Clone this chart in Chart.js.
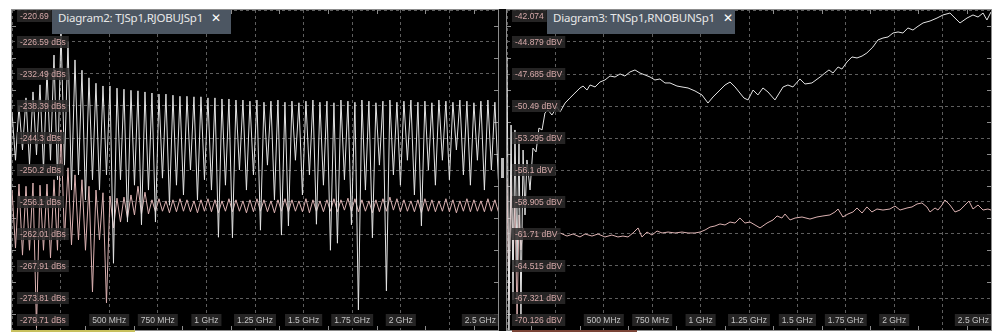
<!DOCTYPE html>
<html>
<head>
<meta charset="utf-8">
<script src="https://cdn.jsdelivr.net/npm/chart.js@4.4.1/dist/chart.umd.min.js"></script>
<style>
  html, body { margin: 0; padding: 0; background: #fff; }
  body { width: 994px; height: 333px; position: relative; overflow: hidden; }
  #frame { position: absolute; left: 11px; top: 9px; width: 981px; height: 322px; background: #050505; }
  .panel { position: absolute; top: 9px; height: 320px; border: 1px solid #8c8c8c; background: #000; }
  #panel2 { left: 11px; width: 486px; }
  #panel3 { left: 506px; width: 484px; }
  .panel canvas { display: block; }
  .tab { position: absolute; top: 10px; height: 24px; line-height: 24px; background: #4c5662; color: #e8e8e8;
         font: 11.5px "Noto Sans", sans-serif; letter-spacing: -0.2px; padding-left: 6px; box-sizing: border-box; white-space: nowrap; }
  .tab b { font-family: "DejaVu Sans", sans-serif; font-size: 12px; font-weight: bold; margin-left: 8px; color: #fff; }
  #tab2 { left: 52px; width: 179px; }
  #tab3 { left: 547px; width: 188px; }
  #handle { position: absolute; left: 501px; top: 158px; width: 3px; height: 20px; background: #bdbdbd; }
  .scroll { position: absolute; top: 330px; height: 2px; }
</style>
</head>
<body>
<div id="frame"></div>
<div class="panel" id="panel2"><canvas id="chart2" width="486" height="320"></canvas></div>
<div class="panel" id="panel3"><canvas id="chart3" width="484" height="320"></canvas></div>
<div class="tab" id="tab2">Diagram2: TJSp1,RJOBUJSp1<b>✕</b></div>
<div class="tab" id="tab3">Diagram3: TNSp1,RNOBUNSp1<b>✕</b></div>
<div id="handle"></div>
<div class="scroll" style="left:11px;width:124px;background:#c8c05c"></div>
<div class="scroll" style="left:512px;width:125px;background:#7a4436"></div>
<script>
// ---------------------------------------------------------
// Frequency axis (shared by both diagrams)
// ---------------------------------------------------------
const freqGridMHz = [0, 250, 500, 750, 1000, 1250, 1500, 1750, 2000, 2250, 2500];
const xLabelMHz = [500, 750, 1000, 1250, 1500, 1750, 2000, 2500];
const xLabelText = ["500 MHz", "750 MHz", "1 GHz", "1.25 GHz", "1.5 GHz", "1.75 GHz", "2 GHz", "2.5 GHz"];

// ---------------------------------------------------------
// Diagram2 (dBs), sampled every 18 MHz
// ---------------------------------------------------------
const diag2StepMHz = 18;
const diag2YTicks = [-220.69, -226.59, -232.49, -238.39, -244.3, -250.2, -256.1, -262.01, -267.91, -273.81, -279.71];
const diag2YLabels = ["-220.69", "-226.59 dBs", "-232.49 dBs", "-238.39 dBs", "-244.3 dBs", "-250.2 dBs",
  "-256.1 dBs", "-262.01 dBs", "-267.91 dBs", "-273.81 dBs", "-279.71 dBs"];

const diag2White = [
  -239.5, -248.4, -238.4, -246.5, -236.9, -249.3, -235.8, -247.4, -234.5, -250.2,
  -231.8, -248.4, -229.0, -252.0, -224.4, -249.3, -226.6, -253.9, -229.9, -251.1,
  -231.8, -255.7, -233.2, -252.0, -234.2, -253.9, -234.7, -251.1, -234.7, -267.4,
  -235.1, -252.0, -235.3, -259.8, -235.5, -253.0, -235.6, -260.3, -235.8, -253.9,
  -236.0, -259.8, -236.2, -251.7, -236.2, -256.7, -236.4, -253.0, -236.6, -254.8,
  -236.6, -250.2, -236.7, -255.7, -236.7, -252.0, -236.9, -253.9, -236.9, -262.6,
  -237.1, -253.0, -237.1, -262.7, -237.3, -250.2, -237.3, -253.9, -237.5, -251.1,
  -237.3, -261.3, -237.7, -249.3, -237.5, -255.7, -237.3, -262.2, -237.7, -260.5,
  -237.5, -248.4, -237.8, -254.8, -237.5, -251.1, -237.3, -260.2, -237.7, -253.0,
  -237.5, -265.0, -237.8, -263.7, -237.3, -252.0, -237.5, -260.3, -237.7, -276.0,
  -237.3, -253.9, -237.5, -262.7, -237.8, -249.3, -237.5, -272.5, -237.3, -251.1,
  -237.7, -253.0, -237.5, -248.4, -237.3, -254.8, -237.7, -260.5, -237.5, -250.2,
  -237.8, -253.0, -237.3, -248.4, -237.5, -252.0, -237.7, -246.5, -237.3, -251.1,
  -237.5, -253.0, -237.8, -248.4, -237.5, -253.9, -237.3, -250.2, -237.7, -252.0
];

const diag2Pink = [
  -253.9, -264.6, -252.8, -265.9, -253.2, -265.0, -252.6, -279.3, -253.0, -265.0,
  -252.8, -266.4, -252.0, -265.0, -242.8, -263.1, -249.8, -264.0, -251.1, -263.1,
  -252.0, -265.0, -253.2, -272.7, -253.9, -263.1, -254.4, -274.7, -255.0, -260.9,
  -255.4, -259.8, -255.2, -259.1, -254.8, -258.5, -253.2, -258.3, -254.3, -258.3,
  -255.7, -257.9, -255.5, -257.8, -255.9, -258.1, -255.7, -257.9, -255.5, -257.8,
  -255.7, -257.9, -255.9, -258.1, -255.7, -257.8, -255.5, -257.9, -255.7, -258.1,
  -255.9, -257.8, -255.5, -257.9, -255.7, -257.8, -255.9, -258.1, -255.7, -257.9,
  -255.5, -257.8, -255.7, -257.9, -255.9, -258.1, -255.7, -257.8, -255.5, -257.9,
  -255.7, -257.8, -255.9, -257.9, -255.5, -258.1, -255.7, -257.8, -255.9, -257.9,
  -255.7, -257.8, -255.5, -257.9, -255.7, -257.6, -255.4, -257.8, -255.5, -257.9,
  -255.7, -257.8, -255.9, -258.1, -255.7, -257.9, -255.5, -257.8, -255.2, -257.6,
  -255.5, -257.9, -255.7, -257.8, -255.9, -257.9, -255.7, -258.1, -255.5, -257.8,
  -255.7, -257.9, -255.9, -257.8, -255.5, -257.9, -255.7, -258.1, -255.9, -257.8,
  -255.5, -257.9, -255.7, -257.8, -255.9, -257.9, -255.5, -257.8, -255.7, -257.9
];

// ---------------------------------------------------------
// Diagram3 (dBV)
// ---------------------------------------------------------
const diag3YTicks = [-42.074, -44.879, -47.685, -50.49, -53.295, -56.1, -58.905, -61.71, -64.515, -67.321, -70.126];
const diag3YLabels = ["-42.074", "-44.879 dBV", "-47.685 dBV", "-50.49 dBV", "-53.295 dBV", "-56.1 dBV",
  "-58.905 dBV", "-61.71 dBV", "-64.515 dBV", "-67.321 dBV", "-70.126 dBV"];

const diag3WhiteMHz = [
  0, 10, 21, 31, 41, 52, 62, 72, 83, 93,
  103, 119, 134, 150, 165, 181, 196, 212, 232, 258,
  274, 300, 325, 351, 377, 393, 413, 429, 455, 480,
  506, 532, 558, 584, 609, 635, 661, 687, 713, 739,
  764, 790, 816, 842, 878, 904, 935, 971, 1007, 1038,
  1064, 1100, 1126, 1152, 1178, 1203, 1224, 1245, 1271, 1296,
  1322, 1348, 1384, 1426, 1451, 1477, 1513, 1539, 1575, 1617,
  1642, 1663, 1684, 1710, 1730, 1756, 1782, 1808, 1834, 1859,
  1890, 1916, 1942, 1968, 1994, 2020, 2045, 2071, 2097, 2118,
  2149, 2185, 2221, 2252, 2288, 2314, 2340, 2376, 2407, 2433,
  2459, 2479, 2500
];
const diag3WhiteDbv = [
  -46.19, -70.13, -52.16, -67.50, -52.59, -64.43, -53.47, -69.07, -54.35, -60.04,
  -55.22, -57.85, -54.17, -54.52, -52.42, -52.59, -51.10, -50.84, -51.28, -50.58,
  -51.02, -50.23, -49.79, -49.35, -48.91, -48.74, -49.09, -48.65, -48.82, -48.39,
  -48.21, -47.86, -47.95, -47.68, -47.86, -47.51, -47.33, -47.60, -47.77, -47.95,
  -48.21, -48.12, -48.47, -48.47, -48.74, -48.82, -48.91, -49.17, -49.52, -50.23,
  -49.70, -49.09, -48.65, -48.39, -48.82, -49.35, -49.79, -49.96, -49.09, -49.52,
  -48.91, -49.26, -49.96, -48.82, -48.65, -48.82, -48.12, -48.56, -48.47, -47.95,
  -47.60, -47.33, -47.60, -47.07, -47.25, -46.63, -46.19, -46.28, -46.11, -45.84,
  -45.32, -44.70, -44.53, -44.44, -44.09, -44.00, -44.09, -43.65, -43.83, -43.56,
  -43.21, -43.04, -42.78, -42.51, -42.34, -42.78, -43.21, -42.78, -42.51, -42.69,
  -42.34, -42.95, -42.25
];

const diag3PinkMHz = [
  0, 10, 21, 31, 41, 52, 62, 72, 83, 98,
  119, 145, 170, 196, 222, 248, 274, 310, 341, 377,
  403, 439, 470, 506, 542, 573, 599, 625, 651, 677,
  697, 723, 749, 775, 801, 832, 868, 904, 935, 971,
  997, 1023, 1049, 1074, 1100, 1126, 1152, 1178, 1203, 1229,
  1255, 1281, 1307, 1343, 1374, 1395, 1420, 1436, 1462, 1488,
  1524, 1565, 1601, 1632, 1668, 1694, 1710, 1735, 1761, 1787,
  1808, 1834, 1859, 1885, 1911, 1942, 1978, 2004, 2030, 2066,
  2092, 2118, 2143, 2169, 2185, 2211, 2226, 2247, 2262, 2288,
  2314, 2340, 2366, 2386, 2407, 2433, 2459, 2484, 2500
];
const diag3PinkDbv = [
  -56.98, -67.50, -56.54, -63.99, -58.73, -69.25, -60.04, -63.11, -61.18, -61.89,
  -61.54, -61.71, -61.54, -61.80, -61.62, -61.80, -61.62, -61.89, -61.71, -61.97,
  -61.71, -61.89, -61.71, -61.97, -61.80, -61.97, -61.89, -61.97, -61.62, -61.18,
  -61.97, -61.54, -61.80, -61.45, -61.62, -61.54, -61.62, -61.54, -61.62, -61.62,
  -61.54, -61.36, -61.10, -61.01, -60.83, -60.92, -60.66, -60.75, -60.31, -60.75,
  -60.66, -60.92, -61.18, -60.75, -60.48, -60.13, -60.31, -59.96, -60.48, -60.31,
  -60.22, -60.40, -60.22, -60.13, -60.04, -59.78, -59.52, -60.22, -59.96, -59.78,
  -59.43, -59.87, -59.34, -59.78, -59.52, -59.61, -59.52, -59.26, -59.61, -59.43,
  -59.34, -59.08, -58.99, -59.34, -59.78, -59.43, -59.61, -59.17, -58.73, -59.17,
  -59.78, -59.61, -59.17, -58.82, -59.52, -59.17, -59.61, -59.52, -59.61
];

const whiteTrace = "#e4e4e4";
const pinkTrace = "#dcb2b2";
const gridColor = "#5e5e5e";


// ---------------------------------------------------------
// Small inward ticks halfway between grid lines, on all 4 edges
// ---------------------------------------------------------
const edgeTicks = {
  id: "edgeTicks",
  beforeDatasetsDraw(chart) {
    const { ctx, chartArea: a, scales: { x, y } } = chart;
    const xv = x.ticks.map(t => t.value);
    const yv = y.ticks.map(t => t.value);
    ctx.save();
    ctx.strokeStyle = "#8c8c8c";
    ctx.lineWidth = 1;
    ctx.beginPath();
    for (let k = 0; k < xv.length - 1; k++) {
      const px = Math.round(x.getPixelForValue((xv[k] + xv[k + 1]) / 2)) + 0.5;
      ctx.moveTo(px, a.top); ctx.lineTo(px, a.top + 4);
      ctx.moveTo(px, a.bottom); ctx.lineTo(px, a.bottom - 4);
    }
    for (let k = 0; k < yv.length - 1; k++) {
      const py = Math.round(y.getPixelForValue((yv[k] + yv[k + 1]) / 2)) + 0.5;
      ctx.moveTo(a.left, py); ctx.lineTo(a.left + 4, py);
      ctx.moveTo(a.right, py); ctx.lineTo(a.right - 4, py);
    }
    ctx.stroke();
    ctx.restore();
  }
};


// ---------------------------------------------------------
// Axis labels drawn inside the plot with dark boxes
// ---------------------------------------------------------
function boxedText(ctx, text, x, y, align, color) {
  const w = ctx.measureText(text).width;
  const left = align === "right" ? x - w - 3 : align === "center" ? x - w / 2 - 3 : x - 3;
  ctx.fillStyle = "rgba(44, 42, 42, 0.85)";
  ctx.fillRect(left, y - 6, w + 6, 12);
  ctx.fillStyle = color;
  ctx.fillText(text, left + 3, y + 0.5);
}

const insideLabels = {
  id: "insideLabels",
  afterDatasetsDraw(chart, args, opts) {
    const { ctx, chartArea: a, scales: { x, y } } = chart;
    ctx.save();
    ctx.font = '8.5px "Liberation Sans", sans-serif';
    ctx.textBaseline = "middle";
    ctx.textAlign = "left";

    y.ticks.forEach((t, i) => {
      let py = y.getPixelForValue(t.value);
      py = Math.min(Math.max(py, a.top + 6), a.bottom - 10);
      boxedText(ctx, opts.yLabels[i], a.left + 8, py, "left", "#d6a9a9");
    });

    xLabelMHz.forEach((f, i) => {
      const last = i === xLabelMHz.length - 1;
      const px = last ? a.right - 2 : x.getPixelForValue(f);
      boxedText(ctx, xLabelText[i], px, a.bottom - 10, last ? "right" : "center", "#c4c4c4");
    });
    ctx.restore();
  }
};


// ---------------------------------------------------------
// Chart builder
// ---------------------------------------------------------
function buildChart(canvasId, datasets, yTicks, yLabels) {
  return new Chart(document.getElementById(canvasId), {
    type: "line",
    data: { datasets },
    options: {
      responsive: false,
      animation: false,
      devicePixelRatio: 1,
      layout: { padding: 0 },
      plugins: {
        legend: { display: false },
        tooltip: { enabled: false },
        insideLabels: { yLabels }
      },
      scales: {
        x: {
          type: "linear",
          min: freqGridMHz[0],
          max: freqGridMHz[freqGridMHz.length - 1],
          afterBuildTicks: s => { s.ticks = freqGridMHz.map(v => ({ value: v })); },
          ticks: { display: false },
          grid: { color: gridColor, drawTicks: false },
          border: { display: false, dash: [3, 3] }
        },
        y: {
          type: "linear",
          min: yTicks[yTicks.length - 1],
          max: yTicks[0],
          afterBuildTicks: s => { s.ticks = yTicks.map(v => ({ value: v })); },
          ticks: { display: false },
          grid: { color: gridColor, drawTicks: false },
          border: { display: false, dash: [3, 3] }
        }
      }
    },
    plugins: [edgeTicks, insideLabels]
  });
}

function trace(points, color) {
  return { data: points, borderColor: color, borderWidth: 1, pointRadius: 0, tension: 0, fill: false };
}

buildChart("chart2", [
  trace(diag2White.map((v, i) => ({ x: i * diag2StepMHz, y: v })), whiteTrace),
  trace(diag2Pink.map((v, i) => ({ x: i * diag2StepMHz, y: v })), pinkTrace)
], diag2YTicks, diag2YLabels);

buildChart("chart3", [
  trace(diag3WhiteMHz.map((f, i) => ({ x: f, y: diag3WhiteDbv[i] })), whiteTrace),
  trace(diag3PinkMHz.map((f, i) => ({ x: f, y: diag3PinkDbv[i] })), pinkTrace)
], diag3YTicks, diag3YLabels);
</script>
</body>
</html>
